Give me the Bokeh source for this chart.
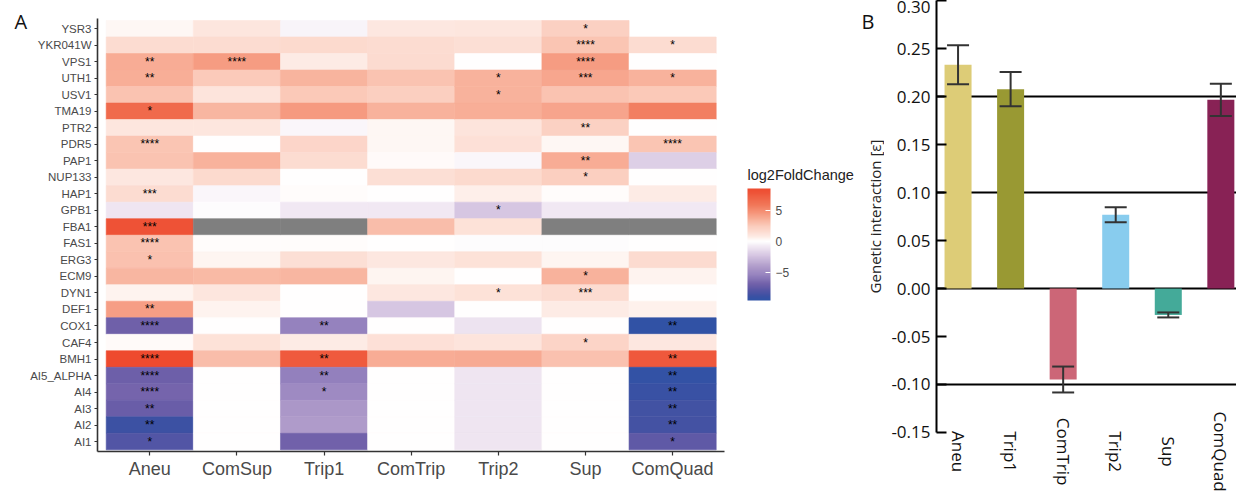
import math
import numpy as np
from bokeh.plotting import figure
from bokeh.models import (ColumnDataSource, Range1d, FixedTicker, LinearColorMapper,
                          ColorBar, Label, Whisker, TeeHead, NumeralTickFormatter)
from bokeh.transform import transform
from bokeh.core.properties import value
from bokeh.layouts import row
from bokeh.embed import file_html
from bokeh.resources import INLINE

# ---------------- data: panel A (heatmap) ----------------
rows = ["YSR3", "YKR041W", "VPS1", "UTH1", "USV1", "TMA19", "PTR2", "PDR5", "PAP1",
        "NUP133", "HAP1", "GPB1", "FBA1", "FAS1", "ERG3", "ECM9", "DYN1", "DEF1",
        "COX1", "CAF4", "BMH1", "AI5_ALPHA", "AI4", "AI3", "AI2", "AI1"]
columns = ["Aneu", "ComSup", "Trip1", "ComTrip", "Trip2", "Sup", "ComQuad"]
NA = float("nan")   # grey (NA) tile
# log2FoldChange per column, rows top -> bottom (None = no tile)
aneu    = [0.3, 1.5, 3.7, 3.6, 2.8, 6.6, 1.0, 2.7, 2.8, 0.9, 1.5, -1.0, 8.0, 2.8, 2.9, 3.3,
           0.5, 4.2, -7.0, 0.2, 8.8, -7.1, -6.8, -7.2, -8.9, -8.1]
comsup  = [1.0, 1.5, 4.3, 2.5, 1.1, 3.3, 1.0, 0.0, 3.5, 1.7, -0.3, -0.15, NA, 0.1, 0.4, 3.2,
           1.0, 0.5, 0.05, 1.2, 3.0, 0.05, 0.05, 0.05, 0.05, 0.0]
trip1   = [-0.4, 1.7, 0.8, 3.4, 2.6, 4.4, -0.3, 1.9, 1.5, 0.0, 0.1, -0.9, NA, 0.1, 1.4, 3.3,
           0.0, 0.05, -5.5, 0.8, 7.5, -5.6, -5.1, -4.3, -4.2, -6.9]
comtrip = [0.9, 1.5, 1.6, 2.8, 2.3, 3.5, 0.3, 0.3, 0.2, 1.4, 0.0, -0.9, 3.0, 0.05, 0.9, 0.4,
           0.9, -2.3, 0.0, 1.3, 3.7, 0.05, 0.05, 0.05, 0.02, 0.0]
trip2   = [1.0, 1.4, 0.0, 3.5, 3.5, 3.6, 1.1, 1.3, -0.35, 1.7, 0.6, -2.3, 1.2, -0.1, 1.2, 0.0,
           1.2, 0.05, -1.1, 1.1, 3.8, -1.0, -1.0, -1.0, -1.0, -1.0]
sup     = [2.2, 2.7, 4.3, 3.9, 2.8, 4.0, 2.1, 0.3, 3.7, 2.3, 0.1, -0.9, NA, -0.1, 0.4, 3.5,
           1.5, 0.8, 0.0, 2.0, 2.9, 0.05, 0.05, 0.05, 0.05, 0.05]
comquad = [None, 1.5, 0.05, 3.5, 2.6, 5.6, 0.0, 2.7, -1.9, 0.0, 0.8, -0.9, NA, 0.0, 1.6, 0.45,
           0.0, 0.55, -9.4, 0.9, 7.6, -9.3, -9.0, -8.7, -8.6, -7.6]

# significance stars per column, rows top -> bottom
aneu_sig    = ["", "", "**", "**", "", "*", "", "****", "", "", "***", "", "***", "****", "*", "",
               "", "**", "****", "", "****", "****", "****", "**", "**", "*"]
comsup_sig  = ["", "", "****"] + [""] * 23
trip1_sig   = [""] * 18 + ["**", "", "**", "**", "*", "", "", ""]
comtrip_sig = [""] * 26
trip2_sig   = ["", "", "", "*", "*", "", "", "", "", "", "", "*", "", "", "", "", "*", "", "",
               "", "", "", "", "", "", ""]
sup_sig     = ["*", "****", "****", "***", "", "", "**", "", "**", "*", "", "", "", "", "", "*",
               "***", "", "", "*", "", "", "", "", "", ""]
comquad_sig = ["", "*", "", "*", "", "", "", "****", "", "", "", "", "", "", "", "", "", "",
               "**", "", "**", "**", "**", "**", "**", "*"]

legend_title = "log2FoldChange"
legend_ticks = [-5, 0, 5]
legend_low, legend_high = -9.6, 8.5

# ---------------- data: panel B (bars) ----------------
bar_groups = ["Aneu", "Trip1", "ComTrip", "Trip2", "Sup", "ComQuad"]
bar_means  = [0.2333, 0.2078, -0.0948, 0.0770, -0.0275, 0.1967]
bar_errors = [0.0203, 0.0178, 0.0135, 0.0078, 0.0026, 0.0168]
bar_colors = ["#DDCC77", "#999933", "#CC6677", "#88CCEE", "#44AA99", "#882255"]
bar_axis_title = "Genetic interaction [ε]"
y_ticks = [-0.15, -0.10, -0.05, 0.00, 0.05, 0.10, 0.15, 0.20, 0.25, 0.30]
grid_values = [-0.10, 0.00, 0.10, 0.20]

# ---------------- colour scale (style) ----------------
stop_v = [-9.6, -8.8, -8.0, -7.0, -5.5, -4.3, -2.3, -1.0, 0.0, 1.0, 2.5, 3.5, 4.5, 6.0, 8.0, 9.6]
stop_c = ["#2E52A6", "#3F51A3", "#5555A5", "#7060A9", "#9683BF", "#AC98C8", "#D6C6E2",
          "#EFE5F1", "#FFFFFF", "#FDE6DE", "#FBCBBB", "#F8B29C", "#F6987D", "#F17657",
          "#EE5236", "#EE4326"]
rgb = np.array([[int(c[i:i + 2], 16) for i in (1, 3, 5)] for c in stop_c], float)
grid_v = np.linspace(-9.6, 9.6, 256)
palette = []
for v in grid_v:
    r, g, b = (int(round(np.interp(v, stop_v, rgb[:, k]))) for k in range(3))
    palette.append("#%02x%02x%02x" % (r, g, b))
mapper = LinearColorMapper(palette=palette, low=-9.6, high=9.6, nan_color="#7F7F7F")

# ---------------- panel A ----------------
heat_values = [aneu, comsup, trip1, comtrip, trip2, sup, comquad]
heat_sig = [aneu_sig, comsup_sig, trip1_sig, comtrip_sig, trip2_sig, sup_sig, comquad_sig]
n_rows, n_cols = len(rows), len(columns)
xs, ys, vals, stars = [], [], [], []
for ci, (colvals, colsig) in enumerate(zip(heat_values, heat_sig)):
    for ri, (v, s) in enumerate(zip(colvals, colsig)):
        if v is None:
            continue
        xs.append(ci)
        ys.append(n_rows - 1 - ri)
        vals.append(v)
        stars.append(s)
src_h = ColumnDataSource(dict(x=xs, y=ys, val=vals, star=stars))

# the heatmap figure spans the canvas up to the bar panel's tick labels
W_A, H_A = 884, 493
LEFT_A, TILE_TOP, BOT_A = 97, 18.35, 42
col_px = 87.14
row_px = (H_A - TILE_TOP - BOT_A) / (n_rows + 0.2)
def px_to_x(px):
    return -0.6 + (px - LEFT_A) / col_px
def py_to_y(py):
    return -0.6 + (H_A - BOT_A - py) / row_px

pA = figure(width=W_A, height=H_A, output_backend="svg", toolbar_location=None,
            x_range=Range1d(-0.6, px_to_x(W_A)), y_range=Range1d(-0.6, py_to_y(0)),
            min_border_left=LEFT_A, min_border_right=0, min_border_top=0,
            min_border_bottom=BOT_A, frame_align=False)
pA.outline_line_color = None
pA.grid.visible = False
pA.rect(x="x", y="y", width=1, height=1, source=src_h,
        fill_color=transform("val", mapper), line_color=transform("val", mapper),
        line_width=0.6)
pA.text(x="x", y="y", text="star", source=src_h, text_font_size="12px",
        text_align="center", text_baseline="middle", text_color="black",
        text_font=value("Liberation Sans"))

xa = pA.xaxis[0]
xa.ticker = FixedTicker(ticks=list(range(n_cols)))
xa.major_label_overrides = {i: c for i, c in enumerate(columns)}
xa.bounds = (-0.6, n_cols - 0.4)
ya = pA.yaxis[0]
ya.ticker = FixedTicker(ticks=list(range(n_rows)))
ya.major_label_overrides = {n_rows - 1 - i: r for i, r in enumerate(rows)}
ya.bounds = (-0.6, n_rows - 0.4)
for ax, fs, tl in ((xa, "18px", 4), (ya, "11.5px", 3)):
    ax.axis_line_color = "#333333"
    ax.axis_line_width = 1.6
    ax.major_tick_line_color = "#333333"
    ax.major_tick_line_width = 1.2
    ax.major_tick_out = tl
    ax.major_tick_in = 0
    ax.minor_tick_line_color = None
    ax.major_label_text_font = "Liberation Sans"
    ax.major_label_text_font_size = fs
    ax.major_label_text_color = "#4a4a4a"
    ax.major_label_standoff = 3

# legend: colour bar (inside the wide frame, right of the tiles)
bar_left_px, bar_bottom_px = 747, 300
cb = ColorBar(color_mapper=mapper, ticker=FixedTicker(ticks=legend_ticks),
              width=23, height=112, display_low=legend_low, display_high=legend_high,
              major_label_text_font="Liberation Sans", major_label_text_font_size="12px",
              major_label_text_color="#4d4d4d", label_standoff=5,
              major_tick_line_color="white", major_tick_in=5, major_tick_out=0,
              bar_line_color=None, padding=0, margin=0,
              background_fill_alpha=0, border_line_color=None,
              location=(bar_left_px - LEFT_A, H_A - BOT_A - bar_bottom_px))
pA.add_layout(cb, "center")
pA.text(x=[px_to_x(bar_left_px)], y=[py_to_y(174)], text=[legend_title], text_align="left",
        text_baseline="middle", text_font=value("Liberation Sans"),
        text_font_size="14.5px", text_color="#222222")
pA.add_layout(Label(x=0, y=H_A - BOT_A - 20.5, x_units="screen", y_units="screen",
                    text="A", text_font="Open Sans", text_font_size="20px",
                    text_align="left", text_baseline="middle", text_color="#111111"),
              "left")
# panel letter "B" and the bar panel's axis title (they sit left of its axis)
pA.text(x=[px_to_x(867.5)], y=[py_to_y(20.5)], text=["B"], text_align="center",
        text_baseline="middle", text_font=value("Open Sans"), text_font_size="20px",
        text_color="#111111")
pA.text(x=[px_to_x(874)], y=[py_to_y(216)], text=[bar_axis_title], angle=math.pi / 2,
        text_align="center", text_baseline="middle", text_font=value("Open Sans"),
        text_font_size="15px", text_color="#222222")

# ---------------- panel B ----------------
bx = list(range(len(bar_groups)))
src_b = ColumnDataSource(dict(
    x=bx, mean=bar_means, color=bar_colors, name=bar_groups,
    upper=[m + e for m, e in zip(bar_means, bar_errors)],
    lower=[m - e for m, e in zip(bar_means, bar_errors)],
    ly=[-0.17] * len(bar_groups)))

W_B = 1236 - W_A
LEFT_B = 936 - W_A
pB = figure(width=W_B, height=493, output_backend="svg", toolbar_location=None,
            x_range=Range1d(-0.41, 5.298), y_range=Range1d(-0.2136, 0.3002),
            x_axis_location=None, min_border_left=LEFT_B, min_border_right=0,
            min_border_top=0, min_border_bottom=0, frame_align=False)
pB.outline_line_color = None
pB.xgrid.visible = False
pB.ygrid.ticker = FixedTicker(ticks=grid_values)
pB.ygrid.grid_line_color = "black"
pB.ygrid.grid_line_width = 2

pB.vbar(x="x", top="mean", bottom=0, width=0.514, fill_color="color",
        line_color=None, source=src_b)
head = dict(size=22, line_color="#333333", line_width=2)
wh = Whisker(base="x", upper="upper", lower="lower", source=src_b,
             line_color="#333333", line_width=2,
             upper_head=TeeHead(**head), lower_head=TeeHead(**head), level="overlay")
pB.add_layout(wh)
pB.text(x="x", y="ly", text="name", source=src_b, angle=-math.pi / 2,
        text_align="center", text_baseline="middle", text_font=value("Open Sans"),
        text_font_size="17px", text_color="#111111")

yb = pB.yaxis[0]
yb.ticker = FixedTicker(ticks=y_ticks)
yb.formatter = NumeralTickFormatter(format="0.00")
yb.bounds = (-0.15, 0.30)
yb.axis_line_color = "black"
yb.axis_line_width = 2
yb.major_tick_line_color = "black"
yb.major_tick_line_width = 2
yb.major_tick_in = 10
yb.major_tick_out = 0
yb.minor_tick_line_color = None
yb.major_label_text_font = "Open Sans"
yb.major_label_text_font_size = "17px"
yb.major_label_text_color = "#111111"
yb.major_label_standoff = 6

layout = row(pA, pB)
open("out.html", "w").write(file_html(layout, INLINE))
